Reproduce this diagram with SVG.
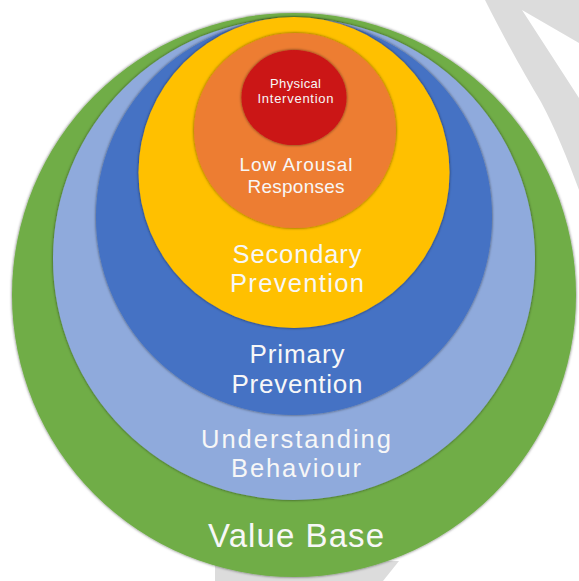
<svg xmlns="http://www.w3.org/2000/svg" width="579" height="581" viewBox="0 0 579 581">
  <defs>
    <filter id="sh" x="-10%" y="-10%" width="120%" height="120%">
      <feDropShadow dx="0" dy="0" stdDeviation="1.6" flood-color="#000" flood-opacity="0.6"/>
    </filter>
  </defs>
  <style>
    .ring { filter: url(#sh); }
    .lbl { font-family: "Liberation Sans", "Open Sans", sans-serif; fill: #F7F7F7; text-anchor: middle; }
    .bg { fill: #DCDCDC; }
  </style>
  <rect width="579" height="581" fill="#FFFFFF"/>
  <g id="background">
    <path class="bg" d="M485,0 L579,0 L579,43 L522,10 L579,98 L579,190 C568,160 555,128 541,102 C525,75 505,40 485,0 Z"/>
    <path class="bg" d="M215,581 L383,581 L399,561 L215,561 Z"/>
  </g>
  <g id="value-base">
    <circle class="ring" cx="294" cy="295" r="282" fill="#70AD47"/>
    <text class="lbl" x="296" y="546.5" font-size="33" textLength="176">Value Base</text>
  </g>
  <g id="understanding-behaviour">
    <circle class="ring" cx="294" cy="259" r="241" fill="#8FAADC"/>
    <text class="lbl" x="296" y="448" font-size="25.5" textLength="190">Understanding</text>
    <text class="lbl" x="296" y="476.5" font-size="25.5" textLength="130">Behaviour</text>
  </g>
  <g id="primary-prevention">
    <circle class="ring" cx="294" cy="217" r="198" fill="#4472C4"/>
    <text class="lbl" x="297" y="363" font-size="26" textLength="95">Primary</text>
    <text class="lbl" x="297" y="392.5" font-size="26" textLength="131">Prevention</text>
  </g>
  <g id="secondary-prevention">
    <circle class="ring" cx="294" cy="172.5" r="155.5" fill="#FFC000"/>
    <text class="lbl" x="297" y="263" font-size="25.5" textLength="129">Secondary</text>
    <text class="lbl" x="297" y="292" font-size="25.5" textLength="134">Prevention</text>
  </g>
  <g id="low-arousal-responses">
    <ellipse class="ring" cx="295" cy="130.5" rx="101" ry="97.5" fill="#ED7D31"/>
    <text class="lbl" x="296" y="171" font-size="19" textLength="113">Low Arousal</text>
    <text class="lbl" x="296" y="193" font-size="19" textLength="97">Responses</text>
  </g>
  <g id="physical-intervention">
    <ellipse class="ring" cx="294" cy="97.5" rx="52.5" ry="47.5" fill="#CB1419"/>
    <text class="lbl" x="295.5" y="88" font-size="13" textLength="51">Physical</text>
    <text class="lbl" x="295.5" y="103" font-size="13" textLength="76">Intervention</text>
  </g>
  <g id="connectors"/>
</svg>
